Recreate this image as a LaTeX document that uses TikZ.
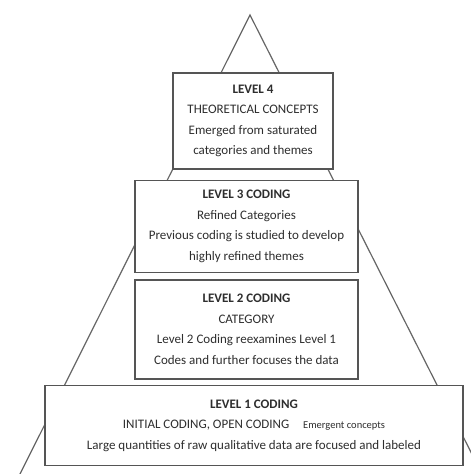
\documentclass[tikz,border=0pt]{standalone}
\usepackage{fontspec}
\setmainfont{Carlito}
\usetikzlibrary{positioning}

\definecolor{textgrey}{HTML}{2E2E2E}
\definecolor{framegrey}{HTML}{555555}
\tikzset{
  level/.style={draw=framegrey,line width=1.5pt,fill=white,align=center,
    text=textgrey,inner sep=0pt,font=\fontsize{13}{20.5}\selectfont},
  pyramid/.style={draw=framegrey!90,line width=1.2pt}
}

\begin{document}
\begin{tikzpicture}[x=1pt,y=-1pt]
\useasboundingbox (0,0) rectangle (471,474);
\clip (0,0) rectangle (471,474);
% the pyramid behind the boxes
\coordinate (apex)	at (250,15);
\coordinate (baseL)	at (20,474);
\coordinate (baseR)	at (482,474);
\draw[pyramid] (baseL) -- (apex) -- (baseR);
% the four levels
\node[level,minimum width=160,minimum height=96]	(lvl4)	at (253,121)	{\textbf{LEVEL 4}\\THEORETICAL CONCEPTS\\Emerged from saturated\\categories and themes};
\node[level,minimum width=223,minimum height=92]	(lvl3)	[below=10pt of lvl4,xshift=-6.5pt]	{\textbf{LEVEL 3 CODING}\\Refined Categories\\Previous coding is studied to develop\\highly refined themes};
\node[level,minimum width=223,minimum height=99]	(lvl2)	[below=6pt of lvl3]	{\textbf{LEVEL 2 CODING}\\CATEGORY\\Level 2 Coding reexamines Level 1\\Codes and further focuses the data};
\node[level,minimum width=418,minimum height=80]	(lvl1)	[below=5pt of lvl2,xshift=7.5pt]	{\textbf{LEVEL 1 CODING}\\INITIAL CODING, OPEN CODING\hspace{14pt}{\fontsize{10.5}{20.5}\selectfont Emergent concepts}\\Large quantities of raw qualitative data are focused and labeled};
\end{tikzpicture}
\end{document}
